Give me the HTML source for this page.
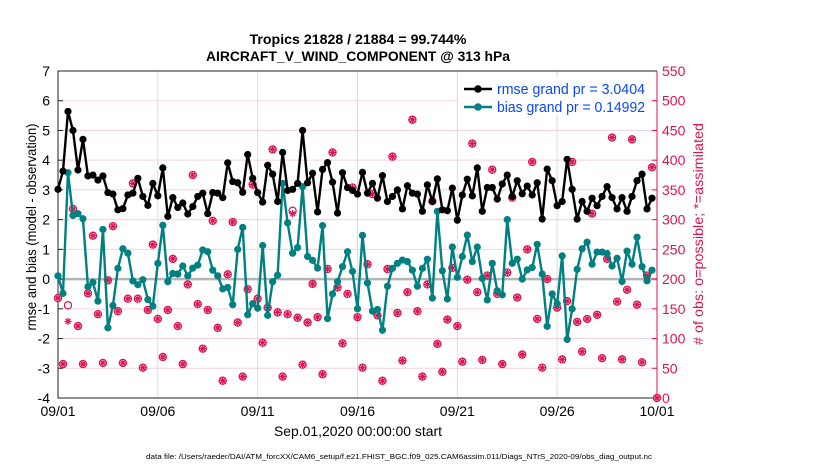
<!DOCTYPE html>
<html><head><meta charset="utf-8"><style>
html,body{margin:0;padding:0;background:#fff;}
svg{display:block;font-family:"Liberation Sans",sans-serif;}
</style></head><body>
<svg id="chart" width="830" height="470" viewBox="0 0 830 470" xmlns="http://www.w3.org/2000/svg">
<g id="grid"></g>
<g id="axes"></g>
<g id="series"></g>
<text x="358" y="44" text-anchor="middle" font-size="13.5" font-weight="bold" textLength="217" lengthAdjust="spacingAndGlyphs">Tropics 21828 / 21884 = 99.744%</text>
<text x="358" y="61" text-anchor="middle" font-size="13.5" font-weight="bold" textLength="304" lengthAdjust="spacingAndGlyphs">AIRCRAFT_V_WIND_COMPONENT @ 313 hPa</text>
<text transform="translate(36,227) rotate(-90)" text-anchor="middle" font-size="14" textLength="207" lengthAdjust="spacingAndGlyphs">rmse and bias (model - observation)</text>
<text transform="translate(703,234) rotate(-90)" text-anchor="middle" font-size="14" fill="#dc1452" textLength="222" lengthAdjust="spacingAndGlyphs"># of obs: o=possible; *=assimilated</text>
<text x="358" y="436" text-anchor="middle" font-size="14" textLength="168" lengthAdjust="spacingAndGlyphs">Sep.01,2020 00:00:00 start</text>
<text x="399" y="459" text-anchor="middle" font-size="7.5" textLength="506" lengthAdjust="spacingAndGlyphs">data file: /Users/raeder/DAI/ATM_forcXX/CAM6_setup/f.e21.FHIST_BGC.f09_025.CAM6assim.011/Diags_NTrS_2020-09/obs_diag_output.nc</text>
<g>
<rect x="458" y="78" width="192" height="36" fill="#fff"/>
<g>
<line x1="464" y1="89" x2="492" y2="89" stroke="#000" stroke-width="2.5"/>
<circle cx="478" cy="89" r="3.8" fill="#000"/>
<text x="497" y="94" font-size="14.5" fill="#0a46ff" textLength="148" lengthAdjust="spacingAndGlyphs">rmse grand pr = 3.0404</text>
</g>
<g>
<line x1="464" y1="107" x2="492" y2="107" stroke="#008080" stroke-width="2.5"/>
<circle cx="478" cy="107" r="3.8" fill="#008080"/>
<text x="497" y="112" font-size="14.5" fill="#0a46ff" textLength="148" lengthAdjust="spacingAndGlyphs">bias grand pr = 0.14992</text>
</g>
</g>
</svg>
<script>
const rmse = [3.02,3.63,5.64,5.0,3.67,4.7,3.47,3.5,3.33,3.47,2.91,2.86,2.33,2.37,2.83,2.89,3.39,2.78,2.48,3.22,2.8,3.74,2.11,2.74,2.41,2.56,2.19,2.44,2.78,2.89,
2.2,2.91,2.89,2.74,3.91,3.28,3.24,2.92,4.19,3.39,2.91,2.59,3.83,3.53,2.61,4.26,2.98,3.02,3.22,5.0,3.24,3.56,2.26,3.69,3.92,3.26,2.22,3.58,3.08,2.98,
2.86,3.59,2.89,3.22,2.72,3.48,2.61,2.78,3.0,2.36,3.14,2.89,2.86,2.28,3.17,2.61,3.37,2.33,2.3,3.06,1.98,2.83,3.36,2.8,3.74,2.28,3.08,3.08,2.69,3.2,
3.5,2.78,3.31,2.87,3.13,2.83,3.24,2.02,3.7,3.31,2.47,2.61,4.03,3.02,2.02,2.61,2.28,2.72,2.47,2.78,3.11,2.74,2.36,2.74,2.28,2.78,3.31,3.53,2.36,2.72];
const bias = [0.11,-0.48,3.58,2.14,2.2,2.03,-0.26,-0.11,-0.74,1.67,-1.64,-0.89,0.36,1.02,0.87,-0.06,-0.19,-0.02,-0.69,-0.91,0.53,1.81,-0.09,0.19,0.17,0.44,0.11,0.37,0.47,0.98,
0.92,0.3,0.11,-0.33,-0.28,-0.86,1.0,1.74,-1.2,-0.83,-0.98,1.13,-1.22,-0.09,0.13,3.22,1.89,0.87,1.06,3.11,0.76,0.63,0.37,1.8,-1.33,-0.5,-0.09,0.42,0.92,0.26,
-1.0,1.47,-0.13,-1.08,-1.02,-1.72,-0.24,0.36,0.53,0.64,0.59,0.3,-0.24,0.36,0.67,-0.64,2.28,0.28,-0.67,1.08,0.06,0.76,1.48,0.59,1.08,0.02,-0.7,0.53,-0.39,-0.53,
2.0,0.53,0.67,0.0,0.31,0.39,1.17,0.17,-1.59,-0.5,-0.83,0.78,-2.03,-1.0,0.33,1.02,1.24,0.5,0.91,0.91,0.86,0.44,0.7,-0.08,0.94,0.5,1.41,0.42,-0.06,0.3];
const possible = [168,57,156,318,121,57,176,273,141,59,198,289,146,59,167,361,167,51,148,258,133,69,148,234,121,57,191,375,158,83,
148,298,118,29,208,296,127,36,183,359,167,93,152,418,144,36,141,315,135,56,127,192,136,40,217,413,186,92,175,354,
136,51,225,343,139,29,217,406,143,63,178,468,146,36,191,331,91,44,132,219,121,61,199,428,178,64,206,384,175,57,
211,337,169,73,250,397,133,51,200,497,152,65,163,397,128,78,133,310,140,67,234,438,162,65,182,435,157,60,206,388,0];
const assimilated = [168,57,129,318,121,57,176,273,141,59,198,289,146,59,167,361,167,51,148,258,133,69,148,234,121,57,191,375,158,83,
148,298,118,29,208,296,127,36,183,359,167,93,152,418,144,36,141,310,135,56,127,192,136,40,217,413,186,92,175,354,
136,51,225,343,139,29,217,406,143,63,178,468,146,36,191,331,91,44,132,219,121,61,199,428,178,64,206,384,175,57,
211,337,169,73,250,397,133,51,200,497,152,65,163,397,128,78,133,310,140,67,234,438,162,65,182,435,157,60,206,388,0];
const xTickDays = [0,5,10,15,20,25,30];
const xTickLabels = ["09/01","09/06","09/11","09/16","09/21","09/26","10/01"];
const yTicks = [-4,-3,-2,-1,0,1,2,3,4,5,6,7];
const y2Ticks = [0,50,100,150,200,250,300,350,400,450,500,550];
const stepDays = 0.25;

const NS="http://www.w3.org/2000/svg";
const L=58,R=657,T=71,B=398;
const xs=d=>L+(d/30)*(R-L);
const ys=v=>B-(v+4)/11*(B-T);
const y2s=c=>B-c/550*(B-T);
const PINK="#dc1452";
function mk(tag,attrs,parent){const e=document.createElementNS(NS,tag);for(const k in attrs)e.setAttribute(k,attrs[k]);parent.appendChild(e);return e;}
const grid=document.getElementById('grid'),axes=document.getElementById('axes'),ser=document.getElementById('series');

yTicks.forEach(v=>{
  const g=mk('line',{x1:L,x2:R,y1:ys(v),y2:ys(v),stroke:'#f2d3de','stroke-width':1},grid);
  
  
  const t=mk('text',{x:L-8,y:ys(v)+5,'text-anchor':'end','font-size':14},axes);
  
  
  t.textContent=v;
  const tk=mk('line',{x1:L,x2:L+5,y1:ys(v),y2:ys(v),stroke:'#222'},axes);
  
  
});
xTickDays.forEach((d,i)=>{
  const g=mk('line',{x1:xs(d),x2:xs(d),y1:T,y2:B,stroke:'#dcdcdc','stroke-width':1},grid);
  
  
  const t=mk('text',{x:xs(d),y:416,'text-anchor':'middle','font-size':14},axes);
  
  
  t.textContent=xTickLabels[i];
});
y2Ticks.forEach(c=>{
  const t=mk('text',{x:R+5,y:y2s(c)+5,'font-size':14,fill:PINK},axes);
  
  
  t.textContent=c;
  const tk=mk('line',{x1:R-5,x2:R,y1:y2s(c),y2:y2s(c),stroke:PINK},axes);
  
  
});
const zl=mk('line',{x1:L,x2:R,y1:ys(0),y2:ys(0),stroke:'#b4b4b4','stroke-width':2.5},grid);


const fr=mk('path',{d:`M${R},${T}H${L}V${B}H${R}`,fill:'none',stroke:'#222','stroke-width':1},axes);


const ra=mk('line',{x1:R,x2:R,y1:T,y2:B,stroke:PINK,'stroke-width':1},axes);



// obs markers
function obsMarker(cx,cy,circle,star,name){
  const g=mk('g',{},ser);
  
  
  if(circle) mk('circle',{cx:cx,cy:cy,r:3.6,fill:'none',stroke:PINK,'stroke-width':1.2},g);
  if(star){
    let d='';
    for(let a=0;a<4;a++){const ang=a*Math.PI/4;const dx=3.6*Math.cos(ang),dy=3.6*Math.sin(ang);d+=`M${cx-dx},${cy-dy}L${cx+dx},${cy+dy}`;}
    mk('path',{d:d,stroke:PINK,'stroke-width':1.2},g);
  }
}
possible.forEach((c,i)=>{
  const x=xs(i*stepDays);
  if(possible[i]===assimilated[i]) obsMarker(x,y2s(c),true,true,'obs-count-point');
  else {obsMarker(x,y2s(c),true,false,'obs-possible-point');obsMarker(x,y2s(assimilated[i]),false,true,'obs-assimilated-point');}
});

function line(arr,color,name,star){
  const p=mk('polyline',{points:arr.map((v,i)=>xs(i*stepDays)+','+ys(v)).join(' '),fill:'none',stroke:color,'stroke-width':2.4,'stroke-linejoin':'round'},ser);
  
  
  arr.forEach((v,i)=>{
    const c=mk('circle',{cx:xs(i*stepDays),cy:ys(v),r:3.6,fill:color},ser);
    
    
  });
}
line(bias,'#008080','bias');
line(rmse,'#000000','rmse');
</script>
</body></html>
